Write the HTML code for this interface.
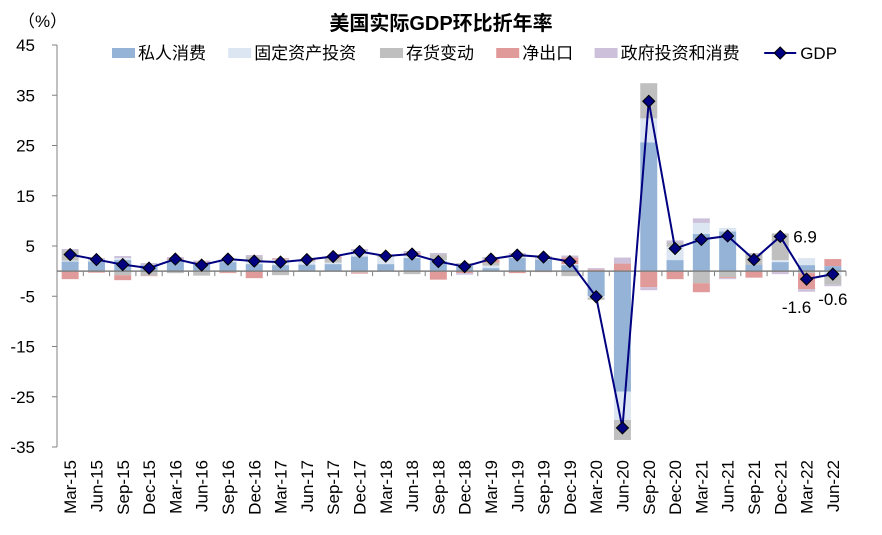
<!DOCTYPE html>
<html><head><meta charset="utf-8"><style>
body{margin:0;background:#fff;font-family:"Liberation Sans","Noto Sans CJK SC",sans-serif;}
</style></head><body>
<svg id="c" width="882" height="530"></svg>
<script>
const cats=["Mar-15","Jun-15","Sep-15","Dec-15","Mar-16","Jun-16","Sep-16","Dec-16","Mar-17","Jun-17","Sep-17","Dec-17","Mar-18","Jun-18","Sep-18","Dec-18","Mar-19","Jun-19","Sep-19","Dec-19","Mar-20","Jun-20","Sep-20","Dec-20","Mar-21","Jun-21","Sep-21","Dec-21","Mar-22","Jun-22"];
const pce=[1.9,1.9,2.2,1.2,2.0,1.6,1.8,1.4,1.2,1.3,1.4,2.9,1.4,2.6,2.0,1.0,0.6,2.6,2.3,1.2,-5.0,-24.0,25.6,2.2,7.4,7.9,1.3,1.8,1.2,1.0];
const fixedInv=[0.2,0.3,0.4,0.0,0.2,0.0,0.3,0.5,1.1,0.6,0.3,1.1,1.4,0.5,0.2,0.4,0.5,0.2,0.2,0.2,-0.3,-5.6,4.8,2.7,2.2,0.7,0.0,0.4,1.4,-0.8];
const inventory=[2.0,0.0,-0.8,-0.9,-0.4,-0.9,-0.2,1.0,-0.8,0.2,0.9,-0.3,0.3,-0.6,1.1,0.2,0.6,0.2,-0.1,-1.0,-0.4,-4.0,7.0,0.8,-2.4,-1.2,2.2,5.3,-0.4,-1.9];
const netExports=[-1.6,-0.3,-1.0,-0.1,0.2,0.2,-0.2,-1.4,0.2,0.2,0.3,-0.2,0.0,0.5,-1.7,-0.4,0.6,-0.4,-0.1,1.3,0.3,1.5,-3.2,-1.6,-1.8,-0.2,-1.3,-0.2,-3.2,1.4];
const gov=[0.3,0.4,0.4,0.4,0.4,0.3,0.2,0.3,0.1,-0.1,0.1,0.4,0.2,0.4,0.3,-0.3,0.5,0.6,0.5,0.4,0.3,1.2,-0.6,0.4,0.9,-0.2,0.1,-0.4,-0.5,-0.3];
const gdp=[3.3,2.3,1.3,0.6,2.4,1.2,2.4,2.0,1.8,2.3,2.9,3.9,3.0,3.4,1.9,0.9,2.4,3.2,2.8,1.9,-5.1,-31.2,33.8,4.5,6.3,7.0,2.3,6.9,-1.6,-0.6];
const yTicks=[45,35,25,15,5,-5,-15,-25,-35];
const series=[{n:"私人消费",d:pce,c:"#95b3d7",k:"pce"},{n:"固定资产投资",d:fixedInv,c:"#dce6f2",k:"fixed-investment"},{n:"存货变动",d:inventory,c:"#bfbfbf",k:"inventory"},{n:"净出口",d:netExports,c:"#e09a9a",k:"net-exports"},{n:"政府投资和消费",d:gov,c:"#ccc0da",k:"government"}];
const NS="http://www.w3.org/2000/svg",svg=document.getElementById("c");
const L=57,R=846,Y0=45,Y1=447,vMax=45,vMin=-35;
const cw=(R-L)/cats.length;
const x=i=>L+cw*(i+0.5);
const y=v=>Y0+(vMax-v)*(Y1-Y0)/(vMax-vMin);
function el(t,a,p){const e=document.createElementNS(NS,t);for(const k in a)e.setAttribute(k,a[k]);(p||svg).appendChild(e);return e;}
let t=el("text",{x:441,y:30,"text-anchor":"middle","font-size":20,"font-weight":"bold",fill:"#000"});t.textContent="美国实际GDP环比折年率";


t=el("text",{x:18,y:27,"font-size":17,fill:"#000"});t.textContent="（%）";


el("line",{x1:L,y1:Y0,x2:L,y2:Y1,stroke:"#808080"});
yTicks.forEach(v=>{el("line",{x1:L-5,x2:L,y1:y(v),y2:y(v),stroke:"#808080"});
 const tt=el("text",{x:35,y:y(v)+6,"text-anchor":"end","font-size":17,fill:"#000"});tt.textContent=v;
 
 });
const bw=17;
cats.forEach((c,i)=>{let pos=0,neg=0;
 series.forEach(s=>{const v=s.d[i];let y1,y2;
  if(v>=0){y1=y(pos+v);y2=y(pos);pos+=v;}else{y1=y(neg);y2=y(neg+v);neg+=v;}
  const r=el("rect",{x:x(i)-bw/2,y:y1,width:bw,height:Math.max(0,y2-y1),fill:s.c});
  
  });
});
el("line",{x1:L,x2:R,y1:y(0),y2:y(0),stroke:"#808080","stroke-width":1.5});
for(let i=0;i<=cats.length;i++)el("line",{x1:L+cw*i,x2:L+cw*i,y1:y(0),y2:y(0)+5,stroke:"#808080"});
const pl=el("polyline",{points:gdp.map((v,i)=>x(i)+","+y(v)).join(" "),fill:"none",stroke:"#000080","stroke-width":2});


gdp.forEach((v,i)=>{const d=el("polygon",{points:`${x(i)},${y(v)-6} ${x(i)+6},${y(v)} ${x(i)},${y(v)+6} ${x(i)-6},${y(v)}`,fill:"#000080",stroke:"#000","stroke-width":1});
 
 });
[[27,"6.9",13,6],[28,"-1.6",-10,34],[29,"-0.6",0,31]].forEach(([i,s,dx,dy])=>{
 const tt=el("text",{x:x(i)+dx,y:y(gdp[i])+dy,"font-size":17,fill:"#000","text-anchor":i==27?"start":"middle"});tt.textContent=s;
 
 });
cats.forEach((c,i)=>{const tt=el("text",{x:0,y:0,"font-size":17,fill:"#000","text-anchor":"end",transform:`translate(${x(i)+6},460) rotate(-90)`});tt.textContent=c;
 
 });
let lx=112;const ly=53;
series.forEach(s=>{const r=el("rect",{x:lx,y:ly-5,width:23,height:10,fill:s.c});
 
 
 const tt=el("text",{x:lx+26,y:ly+6,"font-size":17,fill:"#000"});tt.textContent=s.n;
 
 
 lx+=26+s.n.length*17.8+19;});
el("line",{x1:lx,x2:lx+32,y1:ly,y2:ly,stroke:"#000080","stroke-width":2});
el("polygon",{points:`${lx+16},${ly-6} ${lx+22},${ly} ${lx+16},${ly+6} ${lx+10},${ly}`,fill:"#000080",stroke:"#000"});
t=el("text",{x:lx+36,y:ly+6,"font-size":17,fill:"#000"});t.textContent="GDP";


</script>
</body></html>
